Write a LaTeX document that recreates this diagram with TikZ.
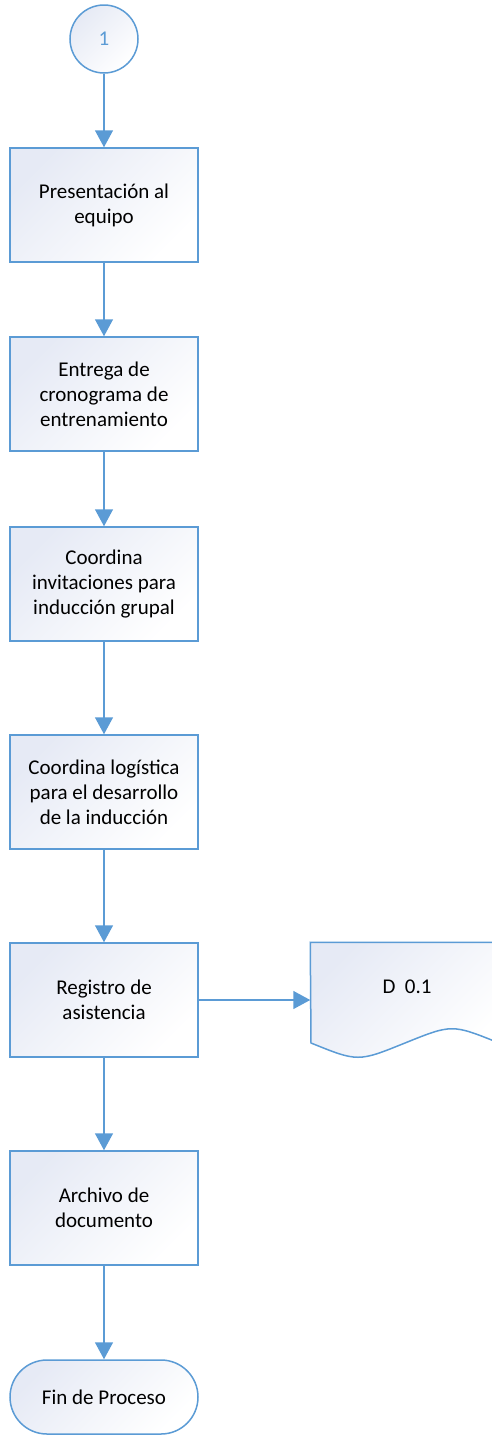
\documentclass[tikz,border=0pt]{standalone}
\usepackage{fontspec}
\setmainfont{Carlito}
\usetikzlibrary{arrows.meta,shapes.misc}
\definecolor{lineblue}{HTML}{5B9BD5}
\definecolor{fillblue}{HTML}{E6EAF5}

\begin{document}
\begin{tikzpicture}[x=1pt, y=-1pt, line width=1.5pt]
    \tikzset{
      shade box/.style={draw=lineblue, top color=fillblue, bottom color=white, shading angle=45},
      proc/.style={shade box, minimum width=188pt, minimum height=114pt, inner sep=0pt, align=center, font=\fontsize{21}{25}\selectfont},
      flow/.style={draw=lineblue, -{Triangle[length=17pt,width=18pt]}}
    }
    \useasboundingbox (0,0) rectangle (491,1435);

    % connector
    \node[shade box, circle, minimum size=68pt, inner sep=0pt, text=lineblue, font=\fontsize{21}{25}\selectfont] (start) at (104,39) {1};

    % process boxes
    \node[proc] (pres) at (104,205) {Presentación al\\equipo};
    \node[proc] (crono) at (104,394) {Entrega de\\cronograma de\\entrenamiento};
    \node[proc] (invit) at (104,584) {Coordina\\invitaciones para\\inducción grupal};
    \node[proc] (logis) at (104,792) {Coordina logística\\para el desarrollo\\de la inducción};
    \node[proc] (reg) at (104,1000) {Registro de\\asistencia};
    \node[proc] (arch) at (104,1208) {Archivo de\\documento};

    % end
    \node[shade box, rounded rectangle, minimum width=188pt, minimum height=74pt, inner sep=0pt, font=\fontsize{21}{25}\selectfont] (fin) at (104,1397) {Fin de Proceso};

    % document
    \node[minimum width=188pt, minimum height=114pt, inner sep=0pt] (doc) at (405,1000) {};
    \path[shade box] (doc.north west) -- (doc.north east) -- (499,1043)
        .. controls (452,1024) and (452,1024) .. (405,1043)
        .. controls (358,1062) and (358,1062) .. (311,1043) -- cycle;
    \node[font=\fontsize{21}{25}\selectfont] (doclabel) at (407,987) {D\ \ 0.1};

    % arrows
    \draw[flow] (start) -- (pres);
    \draw[flow] (pres) -- (crono);
    \draw[flow] (crono) -- (invit);
    \draw[flow] (invit) -- (logis);
    \draw[flow] (logis) -- (reg);
    \draw[flow] (reg) -- (doc);
    \draw[flow] (reg) -- (arch);
    \draw[flow] (arch) -- (fin);
\end{tikzpicture}
\end{document}
